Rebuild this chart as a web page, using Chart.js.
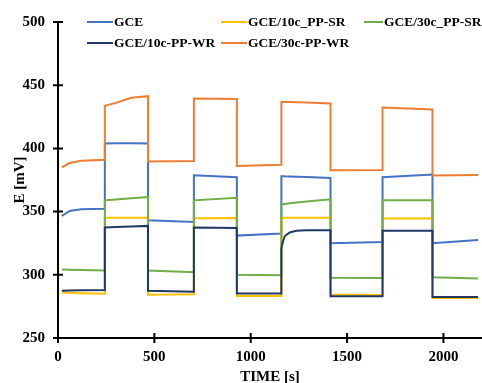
<!DOCTYPE html>
<html lang="en">
  <head>
    <meta charset="UTF-8" />
    <title>E vs TIME</title>
    <script src="https://cdn.jsdelivr.net/npm/chart.js"></script>
    <style>
      html, body { margin: 0; padding: 0; background: #fff; }
      #wrap { width: 482px; height: 383px; }
    </style>
  </head>
  <body>
    <div id="wrap"><canvas id="chart" width="482" height="383"></canvas></div>

    <script>
      // time points (s), shared by all series; repeated values are the potential steps
      const time = [20, 60, 120, 243, 243, 300, 380, 467, 467, 705, 705, 928, 928, 1159,
        1159, 1166, 1176, 1202, 1237, 1290, 1414, 1414, 1684, 1684, 1943, 1943, 2180];

      const gce = [346.5, 350.5, 351.8, 352.3, 403.9, 404, 404, 403.8, 343.2, 341.8, 378.7, 377.2,
        331, 332.7, 378, 378, 377.9, 377.8, 377.6, 377.3, 376.6, 325, 326, 377.2, 379.3, 325, 327.5];
      const gce10SR = [286, 285.8, 285.5, 285, 345.2, 345.2, 345.2, 345.2, 284.3, 284.6, 344.7, 345,
        283.2, 283.2, 345.2, 345.2, 345.2, 345.2, 345.2, 345.2, 345.2, 284.5, 284, 344.5, 344.5, 281.6, 281.6];
      const gce30SR = [304.2, 304, 303.8, 303.4, 358.9, 359.5, 360.5, 361.5, 303.4, 302, 358.9, 361,
        300, 299.6, 355.7, 355.9, 356.1, 356.6, 357.2, 358, 359.7, 297.6, 297.5, 358.9, 358.9, 298, 297];
      const gce10WR = [287.4, 287.5, 287.7, 288, 337.4, 337.8, 338.3, 338.7, 287.4, 286.6, 337.4, 337,
        285.3, 285.3, 321, 325.6, 330.5, 333.5, 334.8, 335.3, 335.3, 283, 283, 334.8, 334.8, 282.4, 282.4];
      const gce30WR = [385, 388.4, 390.3, 391, 433.7, 436, 440, 441.3, 389.7, 390, 439.5, 439,
        386, 387, 436.8, 436.8, 436.7, 436.7, 436.5, 436.3, 435.5, 382.7, 383, 432.4, 430.8, 378.5, 379];

      const seriesNames = ["GCE", "GCE/10c_PP-SR", "GCE/30c_PP-SR", "GCE/10c-PP-WR", "GCE/30c-PP-WR"];
      const seriesValues = [gce, gce10SR, gce30SR, gce10WR, gce30WR];
      const seriesColors = ["#4472C4", "#FFC000", "#70AD47", "#203864", "#ED7D31"];

      const xTicks = [0, 500, 1000, 1500, 2000];
      const yTicks = [250, 300, 350, 400, 450, 500];

      const serif = "'Liberation Serif', 'Times New Roman', serif";

      const datasets = seriesNames.map((name, i) => ({
        label: name,
        data: time.map((t, k) => ({ x: t, y: seriesValues[i][k] })),
        borderColor: seriesColors[i],
        backgroundColor: seriesColors[i],
        borderWidth: 2,
        pointRadius: 0,
        showLine: true,
        tension: 0,
        order: seriesNames.length - i,
      }));

      // Excel style legend: fixed columns in the top of the plot
      const legendCols = [{ x: 87, w: 26 }, { x: 221, w: 26 }, { x: 364, w: 19 }];
      const legendRows = [22, 43];
      const legendPlugin = {
        id: "gridLegend",
        afterDraw(chart) {
          const ctx = chart.ctx;
          ctx.save();
          ctx.font = "bold 13.5px " + serif;
          ctx.textBaseline = "middle";
          ctx.fillStyle = "#000";
          seriesNames.forEach((name, i) => {
            const col = legendCols[i % 3];
            const y = legendRows[Math.floor(i / 3)];
            ctx.strokeStyle = seriesColors[i];
            ctx.lineWidth = 2;
            ctx.beginPath();
            ctx.moveTo(col.x, y);
            ctx.lineTo(col.x + col.w, y);
            ctx.stroke();
            ctx.fillText(name, col.x + col.w + 1, y + 1);
          });
          ctx.restore();
        },
      };

      // tick marks crossing the axis lines
      const crossTicks = {
        id: "crossTicks",
        afterDraw(chart) {
          const { ctx, scales, chartArea } = chart;
          ctx.save();
          ctx.strokeStyle = "#000";
          ctx.lineWidth = 2;
          ctx.beginPath();
          yTicks.forEach((v) => {
            const p = scales.y.getPixelForValue(v);
            ctx.moveTo(chartArea.left - 5, p);
            ctx.lineTo(chartArea.left + 5, p);
          });
          xTicks.forEach((v) => {
            const p = scales.x.getPixelForValue(v);
            ctx.moveTo(p, chartArea.bottom - 5);
            ctx.lineTo(p, chartArea.bottom + 5);
          });
          ctx.stroke();
          ctx.restore();
        },
      };

      new Chart(document.getElementById("chart"), {
        type: "scatter",
        data: { datasets },
        options: {
          responsive: false,
          animation: false,
          layout: { padding: { top: 20, right: 0, left: 0, bottom: 0 } },
          plugins: {
            legend: { display: false },
            tooltip: { enabled: false },
          },
          scales: {
            x: {
              type: "linear",
              min: 0,
              max: 2200,
              afterBuildTicks: (s) => { s.ticks = xTicks.map((v) => ({ value: v })); },
              afterFit: (s) => { s.height = 45; },
              grid: { display: false, drawTicks: false },
              border: { display: true, color: "#000", width: 2 },
              ticks: {
                color: "#000",
                padding: 10,
                maxRotation: 0,
                callback: (v) => String(v),
                font: { family: serif, size: 15, weight: "bold" },
              },
              title: {
                display: true,
                text: "TIME [s]",
                color: "#000",
                font: { family: serif, size: 15, weight: "bold", lineHeight: 1 },
                padding: { top: 0, bottom: -2 },
              },
            },
            y: {
              min: 250,
              max: 500,
              afterBuildTicks: (s) => { s.ticks = yTicks.map((v) => ({ value: v })); },
              afterFit: (s) => { s.width = 58; },
              grid: { display: false, drawTicks: false },
              border: { display: true, color: "#000", width: 2 },
              ticks: {
                color: "#000",
                padding: 13,
                callback: (v) => String(v),
                font: { family: serif, size: 15, weight: "bold" },
              },
              title: {
                display: true,
                text: "E [mV]",
                color: "#000",
                font: { family: serif, size: 15, weight: "bold", lineHeight: 1.2 },
                padding: { top: 11, bottom: 0 },
              },
            },
          },
        },
        plugins: [legendPlugin, crossTicks],
      });
    </script>
  </body>
</html>
